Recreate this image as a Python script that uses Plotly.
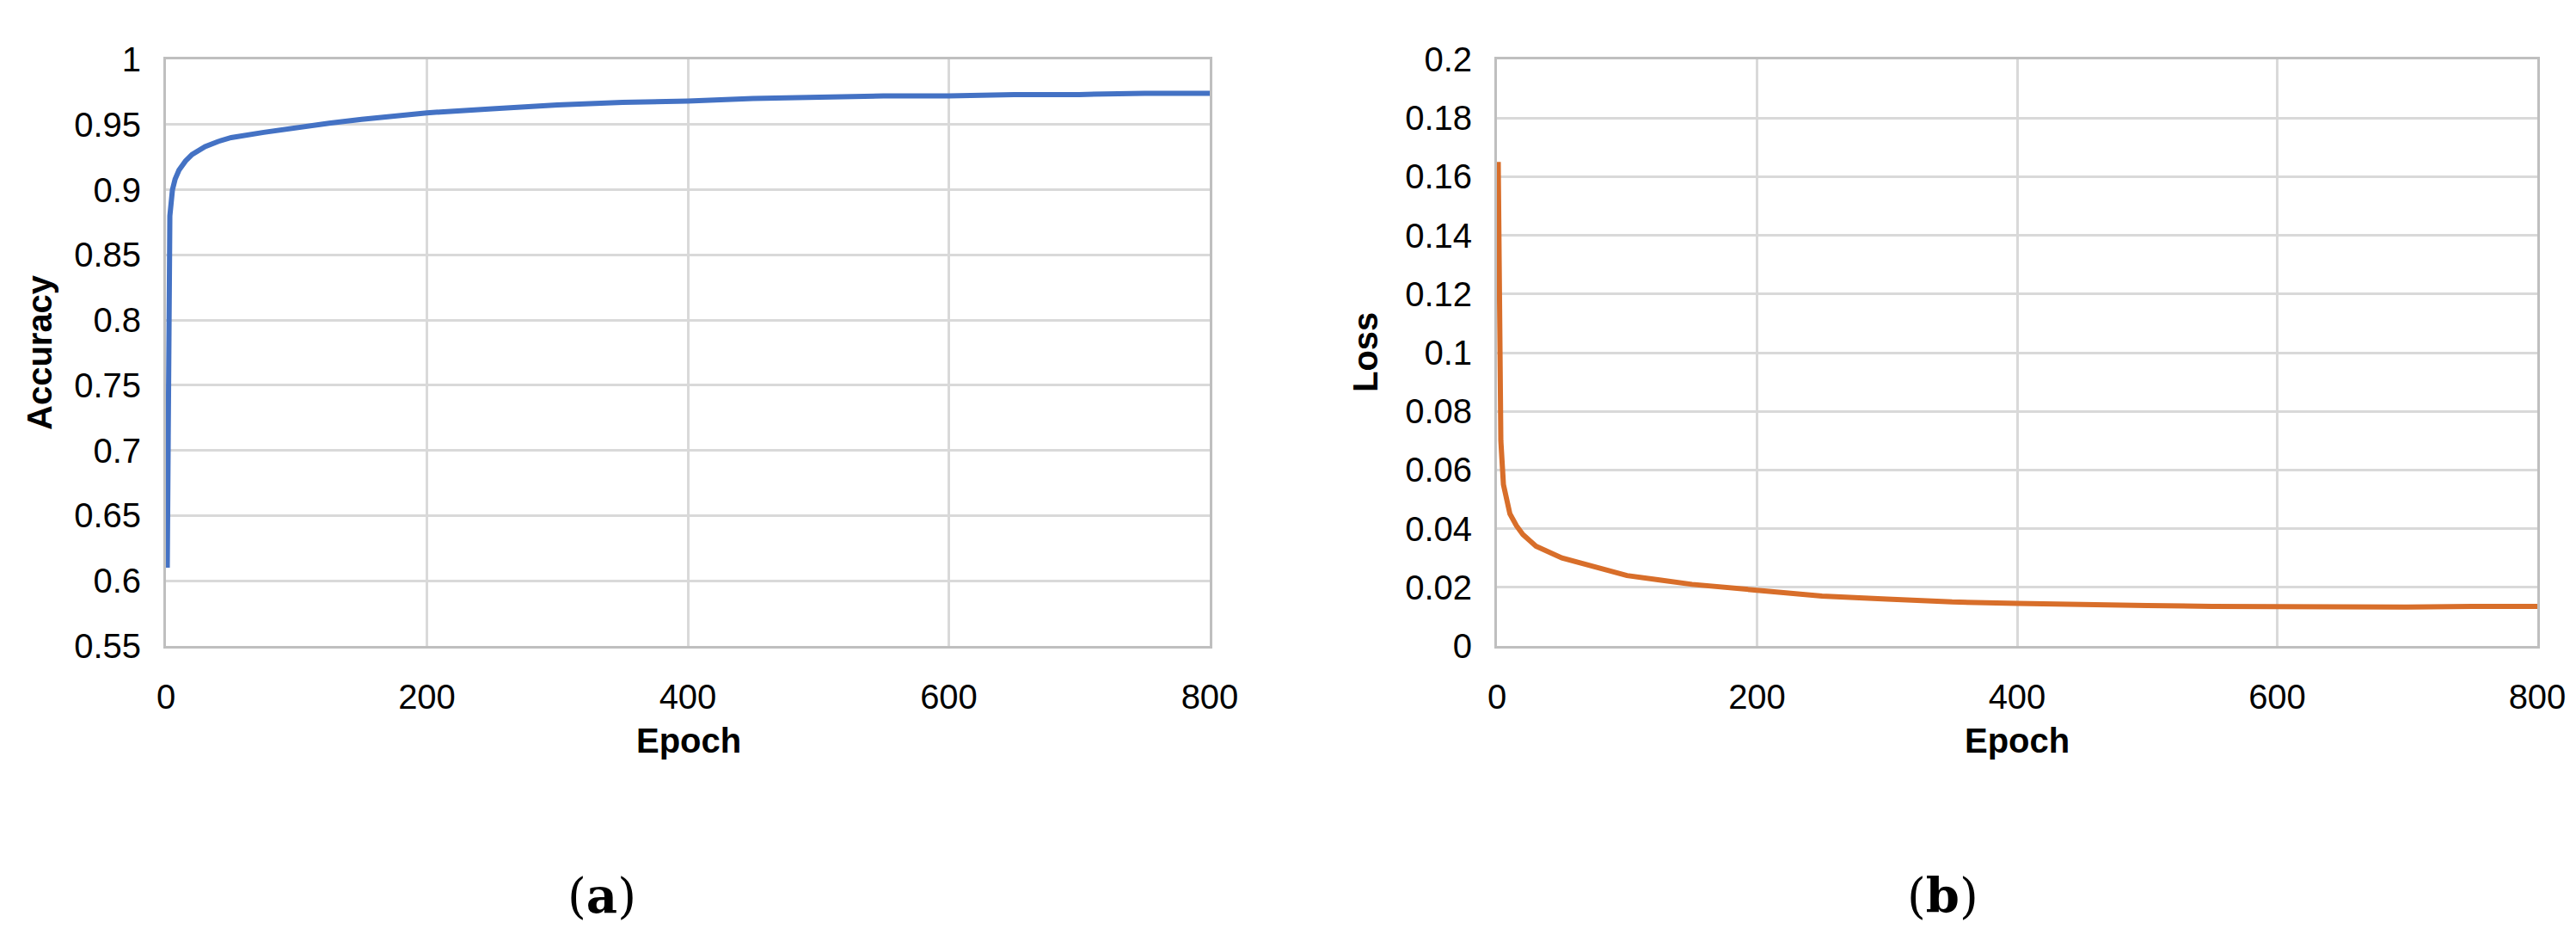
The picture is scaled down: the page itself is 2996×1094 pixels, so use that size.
import plotly.graph_objects as go

epochs = [1, 2, 3, 5, 7, 10, 15, 20, 30, 40, 50, 75, 100, 125, 150, 200, 250, 300, 350, 400, 450, 500, 550, 600, 650, 700, 750, 800]
accuracy = [0.61, 0.85, 0.88, 0.90, 0.908, 0.915, 0.922, 0.927, 0.933, 0.937, 0.940, 0.944, 0.948, 0.951, 0.954, 0.959, 0.962, 0.965, 0.967, 0.968, 0.970, 0.971, 0.972, 0.972, 0.973, 0.973, 0.974, 0.974]
loss = [0.165, 0.09, 0.07, 0.055, 0.05, 0.045, 0.041, 0.038, 0.034, 0.032, 0.030, 0.027, 0.024, 0.0225, 0.021, 0.019, 0.017, 0.016, 0.015, 0.0145, 0.014, 0.0138, 0.0135, 0.0133, 0.0133, 0.0133, 0.0135, 0.0135]
x_ticks = [0, 200, 400, 600, 800]
acc_ticks = [0.55, 0.6, 0.65, 0.7, 0.75, 0.8, 0.85, 0.9, 0.95, 1.0]
acc_labels = ["0.55", "0.6", "0.65", "0.7", "0.75", "0.8", "0.85", "0.9", "0.95", "1"]
loss_ticks = [0, 0.02, 0.04, 0.06, 0.08, 0.1, 0.12, 0.14, 0.16, 0.18, 0.2]
loss_labels = ["0", "0.02", "0.04", "0.06", "0.08", "0.1", "0.12", "0.14", "0.16", "0.18", "0.2"]

W, H = 2996, 1094
FONT = "Liberation Sans, Arial, sans-serif"
fig = go.Figure()
fig.add_trace(go.Scatter(x=epochs, y=accuracy, mode="lines", line=dict(color="#4472c4", width=6), xaxis="x", yaxis="y", showlegend=False))
fig.add_trace(go.Scatter(x=epochs, y=loss, mode="lines", line=dict(color="#d86e2a", width=6), xaxis="x2", yaxis="y2", showlegend=False))

ydom = [1 - 743 / H, 1 - 61 / H]
common = dict(showgrid=True, gridcolor="#d9d9d9", gridwidth=3, showline=True, linecolor="#bfbfbf", linewidth=3,
              zeroline=False, automargin=False, tickfont=dict(family=FONT, size=40, color="black"), ticks="")
fig.update_layout(
    width=W, height=H, margin=dict(l=0, r=0, t=0, b=0),
    paper_bgcolor="white", plot_bgcolor="white",
    xaxis=dict(domain=[185 / W, 1399 / W], range=[0, 800], tickvals=x_ticks, anchor="y", mirror=True, ticklabelstandoff=22, **common),
    yaxis=dict(domain=ydom, range=[0.55, 1.0], tickvals=acc_ticks, ticktext=acc_labels, anchor="x", mirror=True, ticklabelstandoff=18, **common),
    xaxis2=dict(domain=[1733 / W, 2943 / W], range=[0, 800], tickvals=x_ticks, anchor="y2", mirror=True, ticklabelstandoff=22, **common),
    yaxis2=dict(domain=ydom, range=[0, 0.2], tickvals=loss_ticks, ticktext=loss_labels, anchor="x2", mirror=True, ticklabelstandoff=18, **common),
)
ann = [
    dict(text="<b>Accuracy</b>", x=38 / W, y=1 - 402 / H, textangle=-90, font=dict(family=FONT, size=40, color="black")),
    dict(text="<b>Loss</b>", x=1580 / W, y=1 - 402 / H, textangle=-90, font=dict(family=FONT, size=40, color="black")),
    dict(text="<b>Epoch</b>", x=793 / W, y=1 - 853 / H, font=dict(family=FONT, size=40, color="black")),
    dict(text="<b>Epoch</b>", x=2338 / W, y=1 - 853 / H, font=dict(family=FONT, size=40, color="black")),
    dict(text="(<b>a</b>)", x=692 / W, y=1 - 1033 / H, font=dict(family="DejaVu Serif, serif", size=56, color="black")),
    dict(text="(<b>b</b>)", x=2251 / W, y=1 - 1033 / H, font=dict(family="DejaVu Serif, serif", size=56, color="black")),
]
for a in ann:
    fig.add_annotation(xref="paper", yref="paper", showarrow=False, xanchor="center", yanchor="middle", **a)
fig.write_html("out.html")
